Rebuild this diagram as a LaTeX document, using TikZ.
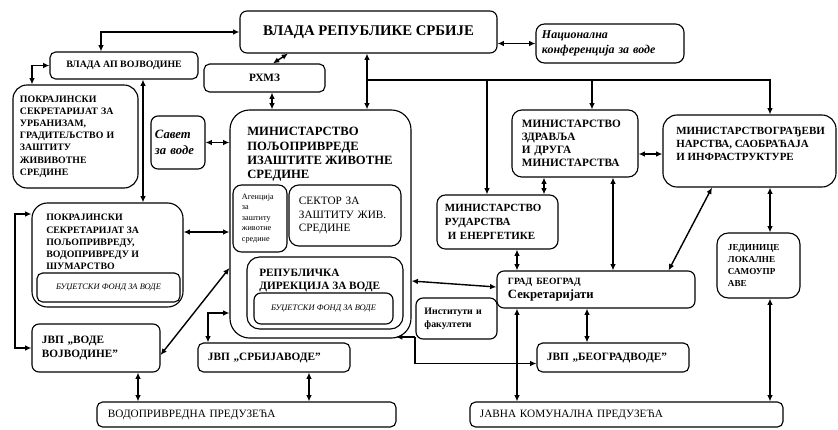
\documentclass[tikz,border=0pt]{standalone}
\usepackage{fontspec}
\setmainfont{Liberation Serif}
\usetikzlibrary{arrows.meta,calc}

\begin{document}
\begin{tikzpicture}[x=0.025cm, y=-0.025cm,
    box/.style={draw, line width=0.8pt, rounded corners=4pt, inner sep=2pt, align=left},
    txt/.style={anchor=north west, inner sep=0pt, align=left},
    both/.style={<->, line width=1pt},
    one/.style={->, line width=1pt},
    >={Latex[length=4.5pt, width=4pt]}]
  \useasboundingbox (0,0) rectangle (838,429);

  % government level
  \node[box, rounded corners=5pt, minimum width=6.425cm, minimum height=1.05cm, font=\fontsize{10.5}{12}\selectfont\bfseries] (vladaRS) at (368.5,32) {ВЛАДА РЕПУБЛИКЕ СРБИЈЕ};
  \node[box, rounded corners=6pt, minimum width=3.7cm, minimum height=0.975cm, text width=3.4cm, font=\fontsize{8.5}{10.7}\selectfont\bfseries\itshape] (nacKonf) at (610,43.5) {Национална\\конференција за воде};
  \node[box, minimum width=3.025cm, minimum height=0.7cm, font=\fontsize{8}{9}\selectfont\bfseries] (rhmz) at (264.5,78) {РХМЗ};
  \node[box, minimum width=3.7cm, minimum height=0.675cm, font=\fontsize{7}{8}\selectfont\bfseries] (vladaAP) at (124,65.5) {ВЛАДА АП ВОЈВОДИНЕ};

  % province
  \node[box, rounded corners=10pt, minimum width=3.125cm, minimum height=2.575cm, text width=2.775cm, font=\fontsize{7}{8.7}\selectfont\bfseries] (urban) at (75.5,136.5) {ПОКРАЈИНСКИ\\СЕКРЕТАРИЈАТ ЗА\\УРБАНИЗАМ,\\ГРАДИТЕЉСТВО И\\ЗАШТИТУ\\ЖИВИВОТНЕ\\СРЕДИНЕ};
  \node[box, rounded corners=11pt, minimum width=3.775cm, minimum height=2.6cm] (psPolj) at (107.5,255) {};
  \node[txt, font=\fontsize{7}{8.7}\selectfont\bfseries] (psPoljText) at (46,214) {ПОКРАЈИНСКИ\\СЕКРЕТАРИЈАТ ЗА\\ПОЉОПРИВРЕДУ,\\ВОДОПРИВРЕДУ И\\ШУМАРСТВО};
  \node[box, minimum width=3.575cm, minimum height=0.725cm, font=\fontsize{6}{7}\selectfont\itshape] (psFond) at (108.5,287.5) {БУЏЕТСКИ ФОНД ЗА ВОДЕ};
  \node[box, rounded corners=5pt, minimum width=3.2cm, minimum height=1.2cm, text width=2.7cm, font=\fontsize{8}{10.5}\selectfont\bfseries] (jvpVV) at (96,348) {ЈВП „ВОДЕ\\ВОЈВОДИНЕ”};

  % ministry of agriculture
  \node[box, rounded corners=5pt, minimum width=1.35cm, minimum height=1.325cm, text width=1.15cm, font=\fontsize{9}{11}\selectfont\bfseries\itshape] (savet) at (178,142.5) {Савет\\за воде};
  \node[box, rounded corners=14pt, minimum width=4.525cm, minimum height=5.7cm] (minPolj) at (320.5,224) {};
  \node[txt, font=\fontsize{9}{10.2}\selectfont\bfseries] (minPoljText) at (247,127) {МИНИСТАРСТВО\\ПОЉОПРИВРЕДЕ\\ИЗАШТИТЕ ЖИВОТНЕ\\СРЕДИНЕ};
  \node[box, rounded corners=6pt, minimum width=1.35cm, minimum height=1.675cm, text width=0.9cm, inner sep=1pt, font=\fontsize{5.8}{7.5}\selectfont] (agencija) at (260,218.5) {Агенција\\за\\заштиту\\животне\\средине};
  \node[box, rounded corners=7pt, minimum width=2.8cm, minimum height=1.525cm, text width=2.3cm, font=\fontsize{8}{9.6}\selectfont] (sektor) at (345,215.5) {СЕКТОР ЗА\\ЗАШТИТУ ЖИВ.\\СРЕДИНЕ};
  \node[box, rounded corners=9pt, minimum width=3.9cm, minimum height=1.8cm] (rdv) at (325,293) {};
  \node[txt, font=\fontsize{8}{9.2}\selectfont\bfseries] (rdvText) at (259,269) {РЕПУБЛИЧКА\\ДИРЕКЦИЈА ЗА ВОДЕ};
  \node[box, rounded corners=5pt, minimum width=3.475cm, minimum height=0.775cm, font=\fontsize{6}{7}\selectfont\itshape] (rdvFond) at (323.5,308.5) {БУЏЕТСКИ ФОНД ЗА ВОДЕ};
  \node[box, minimum width=3.8cm, minimum height=0.725cm, text width=3.3cm, font=\fontsize{8}{9}\selectfont\bfseries] (jvpSV) at (274,357.5) {ЈВП „СРБИЈАВОДЕ”};

  % other ministries
  \node[box, rounded corners=6pt, minimum width=3.025cm, minimum height=1.35cm, text width=2.625cm, font=\fontsize{7.8}{10}\selectfont\bfseries] (minRud) at (497.5,222) {МИНИСТАРСТВО\\РУДАРСТВА\\\hspace*{2pt}И ЕНЕРГЕТИКЕ};
  \node[box, rounded corners=7pt, minimum width=3.15cm, minimum height=1.675cm, text width=2.65cm, font=\fontsize{8}{9.3}\selectfont\bfseries] (minZdr) at (575,143.5) {МИНИСТАРСТВО\\ЗДРАВЉА\\И ДРУГА\\МИНИСТАРСТВА};
  \node[box, rounded corners=10pt, minimum width=4.325cm, minimum height=1.8cm] (minGradj) at (749.5,151) {};
  \node[txt, font=\fontsize{7.8}{9.2}\selectfont\bfseries] (minGradjText) at (676,127) {МИНИСТАРСТВОГРАЂЕВИ\\НАРСТВА, САОБРАЋАЈА\\И ИНФРАСТРУКТУРЕ};

  % city and local level
  \node[box, rounded corners=5pt, minimum width=4.95cm, minimum height=0.925cm, text width=4.4cm, font=\fontsize{9}{10}\selectfont\bfseries] (gradBG) at (596,289.5) {{\fontsize{6.8}{8}\selectfont ГРАД БЕОГРАД}\\Секретаријати};
  \node[box, rounded corners=5pt, minimum width=2.025cm, minimum height=1.025cm, text width=1.6cm, font=\fontsize{7}{9.2}\selectfont\bfseries] (instFak) at (456.5,318.5) {Институти и\\факултети};
  \node[box, minimum width=3.8cm, minimum height=0.725cm, text width=3.3cm, font=\fontsize{8}{9}\selectfont\bfseries] (jvpBV) at (613,357.5) {ЈВП „БЕОГРАДВОДЕ”};
  \node[box, rounded corners=8pt, minimum width=2.075cm, minimum height=1.625cm, text width=1.525cm, font=\fontsize{6.5}{8.7}\selectfont\bfseries] (jedinice) at (758.5,265.5) {ЈЕДИНИЦЕ\\ЛОКАЛНЕ\\САМОУПР\\АВЕ};

  % enterprises
  \node[box, minimum width=7.475cm, minimum height=0.625cm, text width=6.925cm, font=\fontsize{8}{9}\selectfont] (vodoPred) at (246.5,414.5) {ВОДОПРИВРЕДНА ПРЕДУЗЕЋА};
  \node[box, minimum width=7.825cm, minimum height=0.625cm, text width=7.325cm, font=\fontsize{8}{9}\selectfont] (javnaKom) at (626.5,414.5) {ЈАВНА КОМУНАЛНА ПРЕДУЗЕЋА};

  % line positions
  \coordinate (xAP) at (101,0);
  \coordinate (xUrb) at (32,0);
  \coordinate (xApD) at (143,0);
  \coordinate (xRh) at (272,0);
  \coordinate (xRs) at (367,0);
  \coordinate (xRud) at (487,0);
  \coordinate (xZdrT) at (592,0);
  \coordinate (xGj) at (770,0);
  \coordinate (xVv) at (138,0);
  \coordinate (xSv) at (309,0);
  \coordinate (xGb) at (517,0);
  \coordinate (xBv) at (587,0);
  \coordinate (xZdr) at (613,0);
  \coordinate (xZr) at (544,0);
  \coordinate (yPp) at (0,232);
  \coordinate (yZg) at (0,154);
  \coordinate (branch) at (367,80);
  \coordinate (loopL) at (15,214);
  \coordinate (svTurn) at (208,313);
  \coordinate (instJoin) at (415,337);
  \coordinate (minCorner) at (396,337);

  % connectors
  \draw[both] (vladaRS.west) -| (vladaAP.north -| xAP);
  \draw[both] (vladaAP.west) -| (urban.north -| xUrb);
  \draw[both] (vladaAP.south -| xApD) -- (psPolj.north -| xApD);
  \draw[both] ($(rhmz.north)+(8.5,0)$) -- ($(vladaRS.south)+(-80.5,0)$);
  \draw[both] (rhmz.south -| xRh) -- (minPolj.north -| xRh);
  \draw[both] (vladaRS.south -| xRs) -- (minPolj.north -| xRs);
  \draw[both] (vladaRS.east |- nacKonf.west) -- (nacKonf.west);
  \draw[one] (branch) -- (branch -| xGj) -- (minGradj.north -| xGj);
  \draw[one] (branch -| xRud) -- (minRud.north -| xRud);
  \draw[one] (branch -| xZdrT) -- (minZdr.north -| xZdrT);

  \draw[both] (savet.east) -- (savet.east -| minPolj.west);
  \draw[both] (psPolj.east |- yPp) -- (minPolj.west |- yPp);
  \draw[both] ($(jvpVV.east)+(0,7)$) -- ($(minPolj.west)+(0,44)$);
  \draw[both] (loopL -| psPolj.west) -- (loopL) |- (jvpVV.west);
  \draw[both] (svTurn -| minPolj.west) -- (svTurn) -- (svTurn |- jvpSV.north);
  \draw[both] (jvpVV.south -| xVv) -- (vodoPred.north -| xVv);
  \draw[both] (jvpSV.south -| xSv) -- (vodoPred.north -| xSv);

  \draw[both] ($(minPolj.east)+(0,57)$) -- ($(gradBG.west)+(0,-2.5)$);
  \draw[one] (instJoin) -- (minCorner);
  \draw[one] (instJoin) |- ($(jvpBV.west)+(0,6)$);
  \draw[both] (gradBG.south -| xBv) -- (jvpBV.north -| xBv);
  \draw[both] (gradBG.south -| xGb) -- (javnaKom.north -| xGb);
  \draw[both] (minRud.south -| xGb) -- (gradBG.north -| xGb);
  \draw[both] (minZdr.south -| xZdr) -- (gradBG.north -| xZdr);
  \draw[both] (minZdr.south -| xZr) -- (minRud.north -| xZr);
  \draw[both] (minZdr.east |- yZg) -- (minGradj.west |- yZg);
  \draw[both] ($(minGradj.south)+(-37.5,0)$) -- ($(gradBG.north east)+(-27,0)$);
  \draw[both] (minGradj.south -| xGj) -- (jedinice.north -| xGj);
  \draw[both] (jedinice.south -| xGj) -- (javnaKom.north -| xGj);
\end{tikzpicture}
\end{document}
